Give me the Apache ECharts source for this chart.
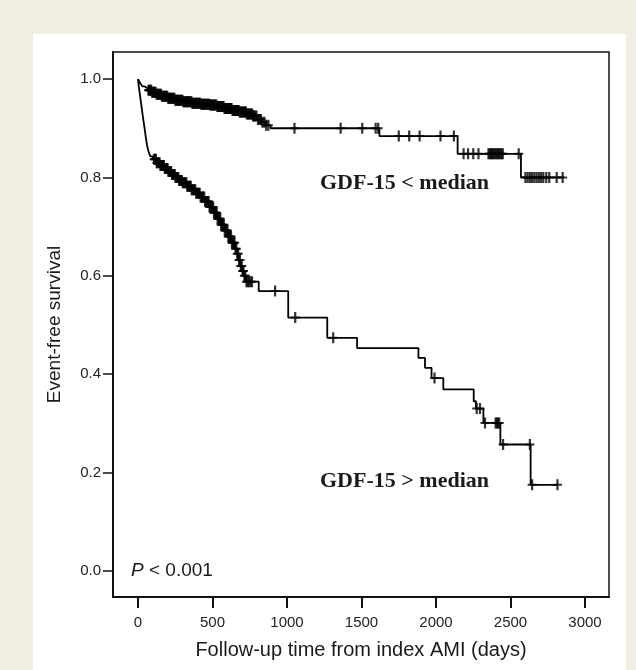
<!DOCTYPE html>
<html>
<head>
<meta charset="utf-8">
<script src="https://cdn.jsdelivr.net/npm/echarts@6/dist/echarts.min.js"></script>
<style>
html,body{margin:0;padding:0;width:636px;height:670px;background:#f0ede2;overflow:hidden;}
#panel{position:absolute;left:33px;top:34px;width:593px;height:636px;background:#ffffff;}
#chart{position:absolute;left:0;top:0;width:636px;height:670px;}
</style>
</head>
<body>
<div id="panel"></div>
<div id="chart"></div>
<script>
// ---- Data ----
var xTicks = [0, 500, 1000, 1500, 2000, 2500, 3000];
var yTicks = [0, 0.2, 0.4, 0.6, 0.8, 1.0];

// GDF-15 < median : Kaplan-Meier steps [days, survival]
var lowSteps = [
  [0,1.0],[8,0.995],[18,0.99],[30,0.985],[45,0.981],[65,0.977],[90,0.973],[120,0.969],
  [160,0.965],[200,0.961],[250,0.957],[300,0.954],[360,0.951],[420,0.949],[480,0.947],
  [530,0.944],[580,0.940],[630,0.936],[680,0.933],[730,0.929],[770,0.925],[800,0.918],
  [830,0.912],[860,0.906],[890,0.900],[1620,0.884],[2145,0.848],[2570,0.800],[2860,0.800]
];
// GDF-15 < median : censoring times (days)
var lowCensor = [
  70,76,82,88,94,100,106,112,118,124,130,136,142,148,154,160,166,172,178,184,190,196,202,
  208,214,220,226,232,238,244,250,256,262,268,274,280,286,292,298,304,310,316,322,328,334,
  340,346,352,358,364,370,376,382,388,394,400,406,412,418,424,430,436,442,448,454,460,466,
  472,478,484,490,496,502,508,514,520,526,532,538,544,550,556,562,568,574,580,586,592,598,
  604,610,616,622,628,634,640,646,652,658,664,670,676,682,688,694,700,706,712,718,724,730,
  736,742,748,754,760,766,772,778,786,795,805,815,825,835,848,860,875,
  1050,1360,1505,1595,1612,1750,1820,1890,2030,2120,2185,2215,2250,2285,2352,2360,2368,
  2376,2384,2392,2400,2408,2416,2424,2432,2440,2448,2555,2600,2615,2630,2645,2660,2675,
  2690,2705,2720,2740,2760,2810,2850
];

// GDF-15 > median : Kaplan-Meier steps [days, survival]
var highSteps = [
  [0,1.0],[5,0.985],[12,0.97],[20,0.952],[28,0.934],[36,0.916],[44,0.900],[52,0.882],
  [60,0.866],[70,0.853],[82,0.843],[100,0.837],[125,0.830],[150,0.824],[175,0.818],
  [200,0.812],[225,0.806],[250,0.800],[275,0.794],[300,0.789],[330,0.782],[360,0.775],
  [390,0.768],[420,0.760],[450,0.751],[480,0.740],[505,0.728],[530,0.716],[555,0.704],
  [580,0.692],[605,0.680],[630,0.667],[650,0.655],[665,0.645],[678,0.632],[690,0.620],
  [700,0.610],[710,0.600],[725,0.588],[810,0.569],[1008,0.515],[1270,0.474],[1470,0.453],
  [1882,0.433],[1926,0.413],[1970,0.392],[2049,0.369],[2253,0.345],[2268,0.330],
  [2318,0.301],[2432,0.257],[2635,0.175],[2815,0.175]
];
// GDF-15 > median : censoring times (days)
var highCensor = [
  108,114,120,126,132,138,144,150,156,162,168,174,180,186,192,198,204,210,216,222,228,234,
  240,246,252,258,264,270,276,282,288,294,300,306,312,318,324,330,336,342,348,354,360,366,
  372,378,384,390,396,402,408,414,420,426,432,438,444,450,456,462,468,474,480,486,492,498,
  504,510,516,522,528,534,540,546,552,558,564,570,576,582,588,594,600,606,612,618,624,630,
  636,642,648,654,660,666,672,678,684,690,696,702,708,714,720,728,736,745,755,765,
  920,1055,1310,1990,2273,2295,2329,2400,2408,2416,2424,2450,2630,2645,2815
];

var seriesNames = ['GDF-15 < median', 'GDF-15 > median'];
var pText = ' < 0.001';

// survival at a censoring time = value of the step function at that time
function survAt(steps, t) {
  var s = steps[0][1];
  for (var i = 0; i < steps.length; i++) { if (steps[i][0] <= t) s = steps[i][1]; }
  return s;
}
function censorPts(steps, times) {
  return times.map(function (t) { return [t, survAt(steps, t)]; });
}

var plus = 'path://M3.4,0H5.6V11H3.4Z M0,4.5H9V6.5H0Z';
var lineCol = '#000000';
var font = 'Liberation Sans, Arial, sans-serif';

var chart = echarts.init(document.getElementById('chart'), null, {renderer: 'canvas'});
chart.setOption({
  backgroundColor: 'transparent',
  animation: false,
  grid: {left: 113, top: 52, right: 27, bottom: 73, show: true, borderColor: '#111', borderWidth: 1.5, backgroundColor: 'transparent'},
  xAxis: {
    type: 'value', min: -168, max: 3161,
    name: 'Follow-up time from index AMI (days)', nameLocation: 'middle', nameGap: 43,
    nameTextStyle: {fontFamily: font, fontSize: 20, color: '#1a1a1a'},
    axisLine: {show: true, onZero: false, lineStyle: {color: '#111', width: 2}},
    axisTick: {show: true, inside: false, length: 11, customValues: xTicks, lineStyle: {color: '#111', width: 2}},
    axisLabel: {customValues: xTicks, margin: 18, fontFamily: font, fontSize: 15, color: '#222',
      formatter: function (v) { return String(v); }},
    splitLine: {show: false}
  },
  yAxis: {
    type: 'value', min: -0.053, max: 1.055,
    name: 'Event-free survival', nameLocation: 'middle', nameGap: 49,
    nameTextStyle: {fontFamily: font, fontSize: 19, color: '#1a1a1a'},
    axisLine: {show: true, onZero: false, lineStyle: {color: '#111', width: 2}},
    axisTick: {show: true, inside: false, length: 10, customValues: yTicks, lineStyle: {color: '#111', width: 1.5}},
    axisLabel: {customValues: yTicks, margin: 12, fontFamily: font, fontSize: 15, color: '#222',
      formatter: function (v) { return v.toFixed(1); }},
    splitLine: {show: false}
  },
  series: [
    {name: seriesNames[0], type: 'line', step: 'end', data: lowSteps, showSymbol: false, symbol: 'none',
     lineStyle: {color: lineCol, width: 1.8}, z: 2},
    {name: seriesNames[1], type: 'line', step: 'end', data: highSteps, showSymbol: false, symbol: 'none',
     lineStyle: {color: lineCol, width: 1.8}, z: 2},
    {name: seriesNames[0] + ' censored', type: 'scatter', data: censorPts(lowSteps, lowCensor),
     symbol: plus, symbolSize: [9, 11], itemStyle: {color: lineCol}, z: 3},
    {name: seriesNames[1] + ' censored', type: 'scatter', data: censorPts(highSteps, highCensor),
     symbol: plus, symbolSize: [9, 11], itemStyle: {color: lineCol}, z: 3}
  ],
  graphic: [
    {type: 'text', left: 320, top: 172, style: {text: seriesNames[0], fontFamily: 'Liberation Serif, Times New Roman, serif', fontWeight: 'bold', fontSize: 22, fill: '#1a1a1a'}},
    {type: 'text', left: 320, top: 470, style: {text: seriesNames[1], fontFamily: 'Liberation Serif, Times New Roman, serif', fontWeight: 'bold', fontSize: 22, fill: '#1a1a1a'}},
    {type: 'text', left: 131, top: 561, style: {
      text: '{i|P}' + pText,
      fontFamily: font, fontSize: 19, fill: '#1a1a1a',
      rich: {i: {fontStyle: 'italic', fontFamily: font, fontSize: 19, fill: '#1a1a1a'}}
    }}
  ]
});
</script>
</body>
</html>
